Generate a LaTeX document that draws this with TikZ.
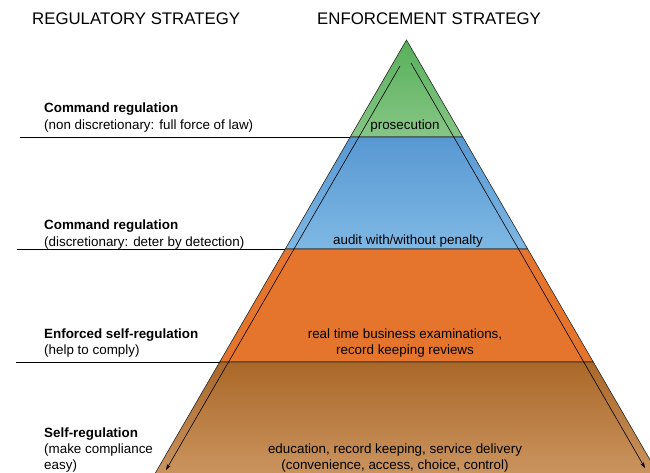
\documentclass[tikz,border=0pt]{standalone}
\usepackage{fontspec}
\setmainfont{Liberation Sans}
\usetikzlibrary{arrows.meta, positioning}

\definecolor{grnTop}{RGB}{88,176,90}
\definecolor{grnBot}{RGB}{134,198,134}
\definecolor{bluTop}{RGB}{88,152,210}
\definecolor{bluBot}{RGB}{126,184,228}
\definecolor{orng}{RGB}{229,117,44}
\definecolor{brnTop}{RGB}{170,104,40}
\definecolor{brnBot}{RGB}{204,150,98}

\begin{document}
\begin{tikzpicture}[
	x=1pt, y=-1pt,
	head/.style = {font=\fontsize{16.8}{20}\selectfont, inner sep=0pt, anchor=base west},
	lbl/.style  = {font=\fontsize{13.4}{16}\selectfont, inner sep=0pt, anchor=base west, align=left},
	ttl/.style  = {lbl, font=\fontsize{13.4}{16}\selectfont\bfseries},
	inside/.style = {font=\fontsize{13.4}{16}\selectfont, inner sep=0pt, anchor=base, align=center},
	tier/.style = {draw=black!85, line width=0.6pt},
	rule/.style = {draw=black, line width=0.8pt},
	flow/.style = {draw=black, line width=0.6pt, -{Stealth[length=6pt, width=4pt]}}
	]
	\useasboundingbox (0,0) rectangle (650,473);
	\clip (0,0) rectangle (650,473);
%
	\coordinate (apex) at (406.5,40);
	\coordinate (L1) at (350.2,137);	\coordinate (R1) at (462.8,137);
	\coordinate (L2) at (285.3,249);	\coordinate (R2) at (527.7,249);
	\coordinate (L3) at (219.7,362);	\coordinate (R3) at (593.3,362);
	\coordinate (L4) at (151.3,480);	\coordinate (R4) at (661.7,480);
%
	\path[tier, top color=grnTop, bottom color=grnBot] (apex) -- (R1) -- (L1) -- cycle;
	\path[tier, top color=bluTop, bottom color=bluBot] (L1) -- (R1) -- (R2) -- (L2) -- cycle;
	\path[tier, fill=orng] (L2) -- (R2) -- (R3) -- (L3) -- cycle;
	\path[tier, top color=brnTop, bottom color=brnBot] (L3) -- (R3) -- (R4) -- (L4) -- cycle;
%
	\coordinate (r1) at (20,137);
	\coordinate (r2) at (17,249);
	\coordinate (r3) at (16,362);
	\draw[rule] (r1) -- (L1);
	\draw[rule] (r2) -- (L2);
	\draw[rule] (r3) -- (L3);
%
	\coordinate (upL) at (400,66);	\coordinate (downL) at (166,470);
	\coordinate (upR) at (411,63);	\coordinate (downR) at (645,468);
	\draw[flow] (upL) -- (downL);
	\draw[flow] (upR) -- (downR);
%
	\node[head] (hreg) at (32,25) {REGULATORY STRATEGY};
	\node[head] (henf) at (317,25) {ENFORCEMENT STRATEGY};
%
	\node[ttl] (cmd1) at (44,113) {Command regulation};
	\node[lbl] (cmd1s) at (44,129.5) {(non discretionary: full force of law)};
	\node[ttl] (cmd2) at (44,229.5) {Command regulation};
	\node[lbl] (cmd2s) at (44,246) {(discretionary: deter by detection)};
	\node[ttl] (enf) at (44,338) {Enforced self-regulation};
	\node[lbl] (enfs) at (44,354) {(help to comply)};
	\node[ttl] (self) at (44,437.5) {Self-regulation};
	\node[lbl] (selfs) at (44,469) {(make compliance\\easy)};
%
	\node[inside] (pros) at (405,130) {prosecution};
	\node[inside] (aud) at (408,244) {audit with/without penalty};
	\node[inside] (exam) at (405,354.5) {real time business examinations,\\record keeping reviews};
	\node[inside] (edu) at (395,469) {education, record keeping, service delivery\\(convenience, access, choice, control)};
\end{tikzpicture}
\end{document}
